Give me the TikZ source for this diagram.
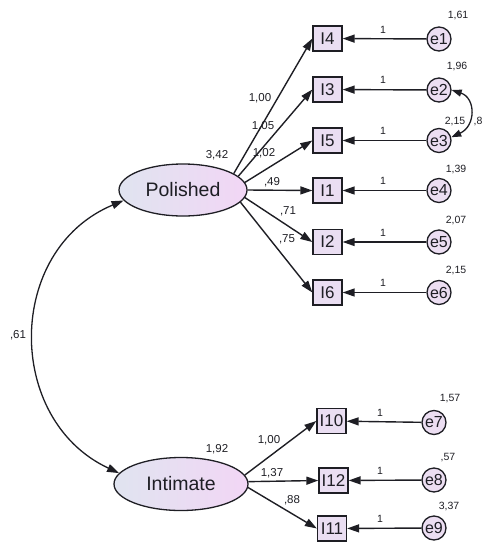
\documentclass[tikz,border=0pt]{standalone}
\usepackage{fontspec}
\setmainfont{Liberation Sans}
\usetikzlibrary{shapes.geometric,arrows.meta}
\definecolor{boxfill}{RGB}{234,222,242}
\definecolor{errfill}{RGB}{236,222,242}
\definecolor{latl}{RGB}{224,228,240}
\definecolor{latr}{RGB}{242,214,245}
\definecolor{ink}{RGB}{30,30,36}
\begin{document}
\begin{tikzpicture}[x=1pt,y=-1pt,
  every node/.style={text=ink},
  latent/.style={ellipse, draw=ink, line width=1.3pt, minimum width=128pt, minimum height=52pt, inner sep=0pt, left color=latl, right color=latr, font=\fontsize{19.5}{20}\selectfont},
  obs/.style={rectangle, draw=ink, line width=1.3pt, fill=boxfill, minimum width=29pt, minimum height=25pt, inner sep=0pt, font=\fontsize{17}{18}\selectfont},
  err/.style={circle, draw=ink, line width=1.3pt, fill=errfill, minimum size=24pt, inner sep=0pt, font=\fontsize{16}{17}\selectfont},
  arr/.style={draw=ink, -{Triangle[length=12pt,width=8pt]}, line width=1.4pt},
  lab/.style={font=\fontsize{11.5}{12}\selectfont, inner sep=0pt},
  vlab/.style={font=\fontsize{10.5}{11}\selectfont, inner sep=0pt},
  onelab/.style={font=\fontsize{10.5}{11}\selectfont, inner sep=0pt}
]
\useasboundingbox (0,0) rectangle (484,542);
% latent
\node[latent] (P) at (183,190) {Polished};
\node[latent, minimum width=134pt, minimum height=53pt] (N) at (181,484) {Intimate};
% observed
\node[obs] (I4) at (327.5,38.5) {I4};
\node[obs] (I3) at (327.5,89.5) {I3};
\node[obs] (I5) at (327.5,140.5) {I5};
\node[obs] (I1) at (327.5,190.5) {I1};
\node[obs] (I2) at (327.5,242) {I2};
\node[obs] (I6) at (327.5,292.5) {I6};
\node[obs] (I10) at (331.5,421) {I10};
\node[obs] (I12) at (333.5,480.5) {I12};
\node[obs] (I11) at (332,528.5) {I11};
% errors
\node[err] (e1) at (439,39) {e1};
\node[err] (e2) at (439,90) {e2};
\node[err] (e3) at (439,140.5) {e3};
\node[err] (e4) at (439,190.5) {e4};
\node[err] (e5) at (439,242) {e5};
\node[err] (e6) at (439,292.5) {e6};
\node[err] (e7) at (434,422.5) {e7};
\node[err] (e8) at (434,480) {e8};
\node[err] (e9) at (434,528) {e9};
% loadings
\foreach \a/\t in {18/I4,14/I3,7/I5,0/I1,-7/I2,-12/I6} \draw[arr] (P.\a) -- (\t.west);
\foreach \a/\t in {8/I10,2/I12,-3/I11} \draw[arr] (N.\a) -- (\t.west);
% error paths
\foreach \e/\t in {e1/I4,e2/I3,e3/I5,e4/I1,e5/I2,e6/I6,e7/I10,e8/I12,e9/I11} \draw[arr] (\e) -- (\t);
% covariances
\draw[draw=ink, line width=1.3pt, {Triangle[length=12pt,width=8pt]}-{Triangle[length=12pt,width=8pt]}]
  (P.190) .. controls (5,250) and (5,420) .. (N.170);
\draw[draw=ink, line width=1.3pt, {Triangle[length=10pt,width=7pt]}-{Triangle[length=10pt,width=7pt]}]
  (e2.0) .. controls (476,98) and (476,126) .. (e3.15);
% loading labels
\node[lab] (l1) at (260,98) {1,00};
\node[lab] (l2) at (263,126) {1,05};
\node[lab] (l3) at (264,153) {1,02};
\node[lab] (l4) at (272,182) {,49};
\node[lab] (l5) at (288,211) {,71};
\node[lab] (l6) at (287,239) {,75};
\node[lab] (vP) at (217,155) {3,42};
\node[lab] (vN) at (217,449) {1,92};
\node[lab] (l7) at (269,440) {1,00};
\node[lab] (l8) at (272,473) {1,37};
\node[lab] (l9) at (292,500) {,88};
\node[lab] (cov) at (18,335) {,61};
% one labels
\foreach \n/\y in {o1/30,o2/80,o3/131,o4/181,o5/233,o6/283} \node[onelab] (\n) at (383,\y) {1};
\foreach \n/\y in {o7/413,o8/471,o9/519} \node[onelab] (\n) at (380,\y) {1};
% variance labels
\node[vlab] (v1) at (458,16) {1,61};
\node[vlab] (v2) at (457,67) {1,96};
\node[vlab] (v3) at (455,122) {2,15};
\node[vlab] (c23) at (478,122) {,8};
\node[vlab] (v4) at (456,170) {1,39};
\node[vlab] (v5) at (456,220) {2,07};
\node[vlab] (v6) at (456,270) {2,15};
\node[vlab] (v7) at (450,399) {1,57};
\node[vlab] (v8) at (448,458) {,57};
\node[vlab] (v9) at (449,506) {3,37};
\end{tikzpicture}
\end{document}
